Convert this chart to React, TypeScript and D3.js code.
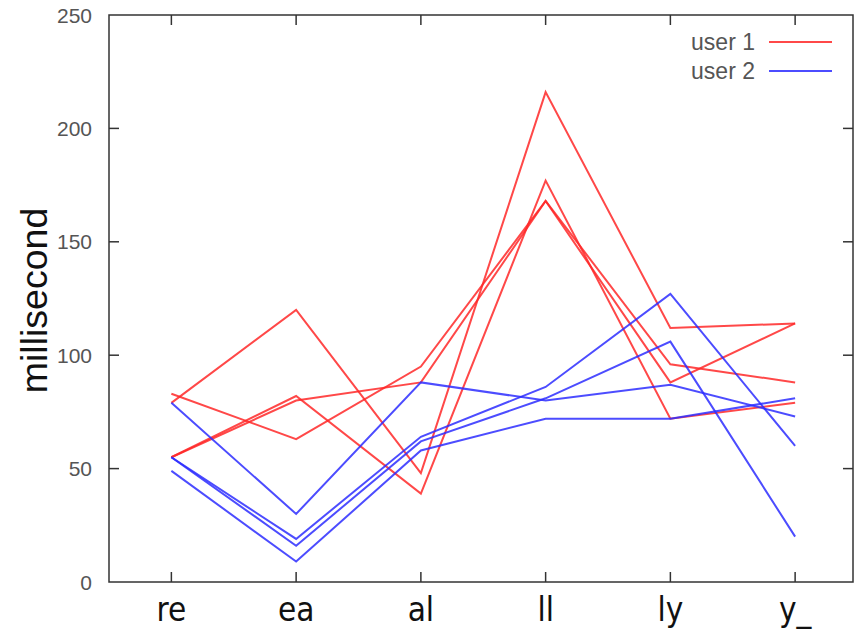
import React from 'react'
import * as d3 from 'd3'

// keystroke pairs on the x axis
const categories = ['re', 'ea', 'al', 'll', 'ly', 'y_']

// one array per typing trial, values in ms
const user1Runs = [
  [83, 63, 95, 168, 96, 88],
  [55, 80, 88, 168, 88, 114],
  [79, 120, 48, 216, 112, 114],
  [55, 82, 39, 177, 72, 79],
]

const user2Runs = [
  [79, 30, 88, 80, 87, 73],
  [55, 19, 64, 86, 127, 60],
  [55, 16, 62, 81, 106, 20],
  [49, 9, 58, 72, 72, 81],
]

const yTicks = [0, 50, 100, 150, 200, 250]
const seriesNames = ['user 1', 'user 2']
const seriesColors = ['rgb(255,40,40)', 'rgb(45,45,255)']

const W = 854
const H = 630
const left = 109
const top = 15
const right = 853
const bottom = 582

export default function App() {
  const x = d3.scalePoint<string>()
    .domain(categories)
    .range([left, 857.5])
    .padding(0.5)

  const y = d3.scaleLinear()
    .domain([0, 250])
    .range([bottom, top])

  const line = d3.line<number>()
    .x((_, i) => x(categories[i])!)
    .y(d => y(d))

  const groups = [user1Runs, user2Runs]
  const axisColor = '#333'
  const tickLen = 10

  return (
    <div style={{ position: 'fixed', left: 0, top: 0 }}>
      <svg width={W} height={H} style={{ display: 'block', background: '#fff' }}>
        {/* frame */}
        <rect x={left} y={top} width={right - left} height={bottom - top}
          fill="none" stroke={axisColor} strokeWidth={1.5} />

        {/* y ticks */}
        {yTicks.map(t => (
          <g key={'y' + t}>
            {t > 0 && t < 250 && (
              <>
                <line x1={left} x2={left + tickLen} y1={y(t)} y2={y(t)} stroke={axisColor} strokeWidth={1.5} />
                <line x1={right} x2={right - tickLen} y1={y(t)} y2={y(t)} stroke={axisColor} strokeWidth={1.5} />
              </>
            )}
            <text x={left - 17} y={y(t)} dy="0.36em" textAnchor="end"
              fontFamily="'Liberation Sans', Arial, sans-serif" fontSize={21} fill="#555">{t}</text>
          </g>
        ))}

        {/* x ticks */}
        {categories.map(c => (
          <g key={'x' + c}>
            <line x1={x(c)} x2={x(c)} y1={bottom} y2={bottom - tickLen} stroke={axisColor} strokeWidth={1.5} />
            <line x1={x(c)} x2={x(c)} y1={top} y2={top + tickLen} stroke={axisColor} strokeWidth={1.5} />
            <text x={x(c)} y={621} textAnchor="middle"
              fontFamily="'Liberation Sans Narrow', 'DejaVu Sans Condensed', 'Liberation Sans', sans-serif"
              fontSize={33} fill="#111">{c}</text>
          </g>
        ))}

        <text transform={`translate(47,${(top + bottom) / 2 + 2}) rotate(-90)`} textAnchor="middle"
          fontFamily="'Liberation Sans', Arial, sans-serif" fontSize={37.5} fill="#111">millisecond</text>

        {/* series */}
        {groups.map((runs, gi) => (
          <g key={'s' + gi}>
            {runs.map((r, ri) => (
              <path key={ri} d={line(r)!} fill="none" stroke={seriesColors[gi]}
                strokeWidth={2} strokeOpacity={0.85} strokeLinejoin="miter" />
            ))}
          </g>
        ))}

        {/* legend */}
        {seriesNames.map((n, i) => (
          <g key={n} transform={`translate(0,${42 + i * 29})`}>
            <text x={755} y={0} dy="0.35em" textAnchor="end"
              fontFamily="'Liberation Sans', Arial, sans-serif" fontSize={23} fill="#555">{n}</text>
            <line x1={769} x2={832} y1={0} y2={0} stroke={seriesColors[i]} strokeWidth={2} strokeOpacity={0.85} />
          </g>
        ))}
      </svg>
    </div>
  )
}
